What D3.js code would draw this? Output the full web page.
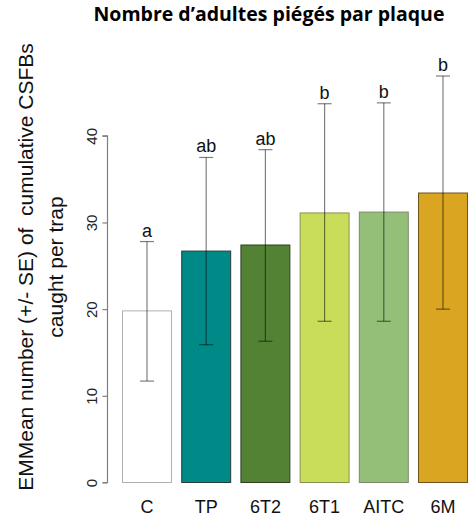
<!DOCTYPE html>
<html>
<head>
<meta charset="utf-8">
<script src="https://cdn.jsdelivr.net/npm/d3@7"></script>
<style>
  body { margin: 0; background: #fff; }
  svg { display: block; }
</style>
</head>
<body>
<svg id="chart"></svg>
<script>
// treatments and estimated marginal means
const categories = ["C", "TP", "6T2", "6T1", "AITC", "6M"];
const means = [19.8, 26.7, 27.4, 31.1, 31.2, 33.4];
const seLow = [11.7, 15.9, 16.3, 18.6, 18.6, 20.0];
const seHigh = [27.8, 37.5, 38.4, 43.7, 43.8, 46.9];
const groups = ["a", "ab", "ab", "b", "b", "b"];
const yTicks = [0, 10, 20, 30, 40];

const fills = ["#ffffff", "#008a87", "#548235", "#c9dd5b", "#93bf78", "#daa520"];
const borders = ["#b0b0b0", "#2b3a3a", "#2f3f22", "#8a9150", "#7c8a6a", "#6b5220"];

const width = 475, height = 519;
const svg = d3.select("#chart").attr("width", width).attr("height", height);

const x = d3.scaleBand()
  .domain(categories)
  .range([117.4, 472.6])
  .paddingInner(0.156)
  .paddingOuter(0.078);

const y = d3.scaleLinear().domain([0, 40]).range([482.5, 135.8]);

const data = categories.map((c, i) => ({
  cat: c, mean: means[i], lo: seLow[i], hi: seHigh[i], grp: groups[i], i: i
}));

// bars
svg.append("g")
  .selectAll("rect")
  .data(data)
  .join("rect")
  .attr("x", d => x(d.cat) + 0.5)
  .attr("y", d => y(d.mean))
  .attr("width", x.bandwidth() - 1)
  .attr("height", d => y(0) - y(d.mean))
  .attr("fill", d => fills[d.i])
  .attr("stroke", d => borders[d.i])
  .attr("stroke-width", 1);

// error bars
const capW = 14;
const err = svg.append("g")
  .attr("stroke", "#000")
  .attr("stroke-opacity", 0.5)
  .attr("stroke-width", 1.2);

err.selectAll(".whisker")
  .data(data)
  .join("line")
  .attr("class", "whisker")
  .attr("x1", d => x(d.cat) + x.bandwidth() / 2)
  .attr("x2", d => x(d.cat) + x.bandwidth() / 2)
  .attr("y1", d => y(d.lo))
  .attr("y2", d => y(d.hi));

err.selectAll(".cap-hi")
  .data(data)
  .join("line")
  .attr("class", "cap-hi")
  .attr("x1", d => x(d.cat) + x.bandwidth() / 2 - capW / 2)
  .attr("x2", d => x(d.cat) + x.bandwidth() / 2 + capW / 2)
  .attr("y1", d => y(d.hi))
  .attr("y2", d => y(d.hi));

err.selectAll(".cap-lo")
  .data(data)
  .join("line")
  .attr("class", "cap-lo")
  .attr("x1", d => x(d.cat) + x.bandwidth() / 2 - capW / 2)
  .attr("x2", d => x(d.cat) + x.bandwidth() / 2 + capW / 2)
  .attr("y1", d => y(d.lo))
  .attr("y2", d => y(d.lo));

// significance letters
svg.append("g")
  .selectAll("text")
  .data(data)
  .join("text")
  .attr("x", d => x(d.cat) + x.bandwidth() / 2)
  .attr("y", d => y(d.hi) - 5)
  .attr("text-anchor", "middle")
  .style("font-family", "Liberation Sans, Arial, sans-serif")
  .style("font-size", "18px")
  .style("fill", "#111")
  .text(d => d.grp);

// y axis
const yAxis = svg.append("g")
  .attr("transform", "translate(107.5,0)")
  .call(d3.axisLeft(y).tickValues(yTicks).tickSize(5).tickPadding(0).tickFormat(d3.format("d")));
yAxis.selectAll("path, line").attr("stroke", "#7f7f7f").attr("stroke-width", 1.2);
yAxis.select(".domain").attr("d", `M-5,${y(0)}H0V${y(40)}H-5`);
yAxis.selectAll("text")
  .attr("transform", "rotate(-90)")
  .attr("x", 0)
  .attr("y", -10.5)
  .attr("dy", 0)
  .attr("text-anchor", "middle")
  .style("font-family", "Liberation Sans, Arial, sans-serif")
  .style("font-size", "15px")
  .style("fill", "#222");

// x labels
const xAxis = svg.append("g")
  .attr("transform", `translate(0,${y(0)})`)
  .call(d3.axisBottom(x).tickSize(0).tickPadding(0));
xAxis.select(".domain").remove();
xAxis.selectAll("text")
  .attr("y", 30.5)
  .attr("dy", 0)
  .style("font-family", "Liberation Sans, Arial, sans-serif")
  .style("font-size", "18px")
  .style("fill", "#111");

// y axis title (two lines)
const yTitle = svg.append("text")
  .attr("transform", "translate(0,267) rotate(-90)")
  .attr("text-anchor", "middle")
  .style("font-family", "Liberation Sans, Arial, sans-serif")
  .style("font-size", "21px")
  .style("white-space", "pre")
  .style("fill", "#111");
yTitle.append("tspan").attr("x", 0).attr("y", 33).text("EMMean number (+/- SE) of  cumulative CSFBs");
yTitle.append("tspan").attr("x", 0).attr("y", 63).text("caught per trap");

// chart title
svg.append("text")
  .attr("x", 269)
  .attr("y", 21)
  .attr("text-anchor", "middle")
  .style("font-family", "Open Sans, sans-serif")
  .style("font-weight", "bold")
  .style("font-size", "19.5px")
  .style("fill", "#000")
  .text("Nombre d’adultes piégés par plaque");
</script>
</body>
</html>
